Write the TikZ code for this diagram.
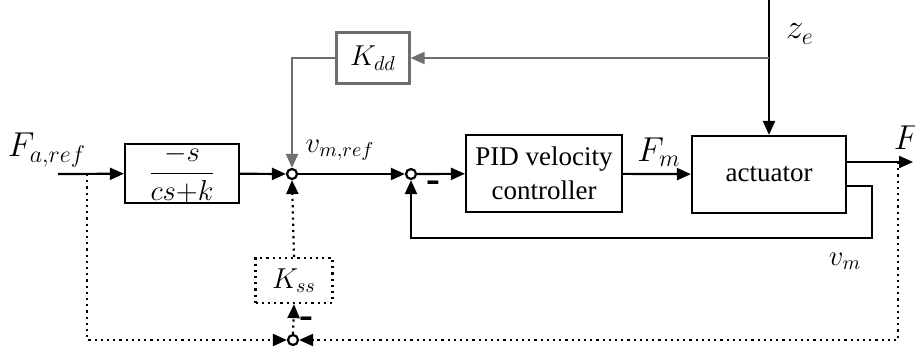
\documentclass[tikz,border=0pt]{standalone}
\usepackage{amsmath, amssymb}
\usepackage{fontspec}
\setmainfont{Liberation Serif}
\usepackage{xcolor}
\usepackage{tikz}
\usetikzlibrary{arrows.meta, calc}
\definecolor{ddgray}{RGB}{110,110,110}

\begin{document}
\begin{tikzpicture}[x=0.5pt, y=-0.5pt, line width=1.1pt,
    block/.style={draw, rectangle, font=\fontsize{13.5}{17}\selectfont, align=center, inner sep=0pt},
    sumpt/.style={draw, circle, inner sep=0pt, minimum size=5pt, fill=white},
    sig/.style={-{Triangle[length=7pt,width=6pt]}},
    lbl/.style={font=\Large},
    biglbl/.style={font=\LARGE},
    minus/.style={font=\huge\bfseries, inner sep=0pt}]
        \useasboundingbox (0,0) rectangle (915,349);
        % Blocks
        \node[block, minimum width=57pt, minimum height=28.5pt] (gs) at (182,173.5) {\Large $\dfrac{-s}{cs{+}k}$};
        \node[block, minimum width=78pt, minimum height=38.5pt] (pid) at (544,173.5) {PID velocity\\controller};
        \node[block, minimum width=77pt, minimum height=38.5pt] (act) at (769,174.5) {actuator};
        \node[block, draw=ddgray, minimum width=36.5pt, minimum height=25.5pt] (kdd) at (373,58) {\Large $K_{dd}$};
        \node[block, dotted, minimum width=38.5pt, minimum height=22.5pt] (kss) at (294,280.5) {\Large $K_{ss}$};
        % Summing points
        \node[sumpt] (s1) at (292,174) {};
        \node[sumpt] (s2) at (411,174) {};
        \node[sumpt] (s3) at (293,340) {};
        % Corner points
        \coordinate (in) at (58,174);
        \coordinate (tap) at (87,174);
        \coordinate (zin) at (769,0);
        \coordinate (ztap) at (769,58);
        \coordinate (out) at (913,162);
        \coordinate (otap) at (898,162);
        % Main path
        \draw[sig] (in) -- (gs);
        \draw[sig] (gs) -- (s1);
        \draw[sig] (s1) -- (s2);
        \draw[sig] (s2) -- (pid);
        \draw[sig] (pid) -- (act);
        \draw[sig] (act.east |- out) -- (out);
        \draw[sig] (zin) -- (act.north -| zin);
        % Velocity loop
        \draw[sig] (act.east |- 0,186) -| (872,238) -| (s2.south);
        % Disturbance feedforward
        \draw[sig, ddgray] (ztap) -- (kdd);
        \draw[sig, ddgray] (kdd.west) -| (s1.north);
        % Steady state loop
        \draw[sig, dotted] (tap) |- (s3.west);
        \draw[sig, dotted] (otap) |- (s3.east);
        \draw[sig, dotted] (s3.north) -- (kss.south);
        \draw[sig, dotted] (kss.north) -- (s1.south);
        % Labels
        \node[biglbl] (lin) at (47,150) {$F_{a,ref}$};
        \node[lbl] (lref) at (340,150) {$v_{m,ref}$};
        \node[biglbl] (lfm) at (659,152) {$F_m$};
        \node[biglbl, anchor=west] (lout) at (886,140) {$F_a$};
        \node[biglbl] (lze) at (800,34) {$z_e$};
        \node[lbl] (lvm) at (845,261) {$v_m$};
        \node[minus] (m2) at (433,187) {-};
        \node[minus] (m3) at (306,323) {-};
      \end{tikzpicture}
\end{document}
